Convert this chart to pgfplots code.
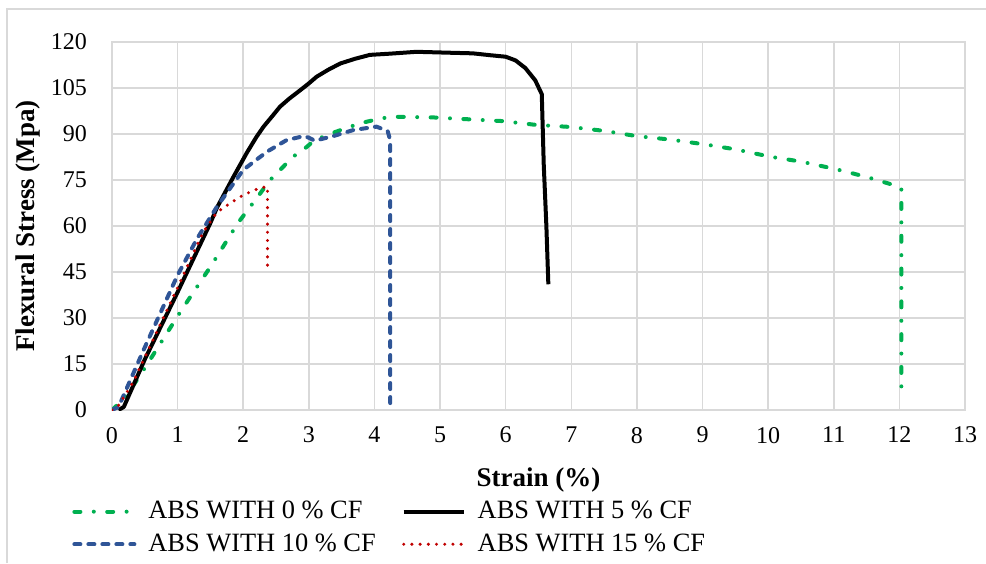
\documentclass[border=0pt]{standalone}
\usepackage{fontspec}
\setmainfont{Liberation Serif}
\usepackage{pgfplots}
\pgfplotsset{compat=1.18}

\definecolor{gridgray}{HTML}{D9D9D9}
\definecolor{cfgreen}{HTML}{00B050}
\definecolor{cfblue}{HTML}{2F5597}
\definecolor{cfred}{HTML}{C00000}

\begin{document}
\begin{tikzpicture}
\useasboundingbox (0,0) rectangle (493pt,281.5pt);
% outer chart frame (only left and top edges show)
\draw[gridgray, line width=1pt] (3.5pt,0) -- (3.5pt,277pt) -- (493pt,277pt);

\begin{axis}[
	at={(56pt,76.5pt)}, anchor=south west,
	scale only axis,
	width=426.5pt, height=184pt,
	xmin=0, xmax=13, ymin=0, ymax=120,
	xtick={0,1,...,13},
	ytick={0,15,...,120},
	grid=major,
	major grid style={gridgray, line width=0.8pt},
	axis line style={gridgray, line width=0.8pt},
	major tick length=0pt,
	/pgf/number format/assume math mode=true,
	ticklabel style={font=\fontsize{12}{14}\selectfont},
	xticklabel style={yshift=-5pt},
	yticklabel style={xshift=-9pt},
	xlabel={\textbf{Strain (\%)}},
	ylabel={\textbf{Flexural Stress (Mpa)}},
	label style={font=\fontsize{13.5}{15}\selectfont},
	xlabel style={at={(axis description cs:0.5,0)}, anchor=center, yshift=-35pt},
	ylabel style={at={(axis description cs:0,0.5)}, anchor=center, yshift=42pt},
	legend columns=2,
	legend cell align=left,
	legend style={
		at={(axis description cs:0,0)}, anchor=north west,
		xshift=-20pt, yshift=-43.5pt,
		draw=none, fill=none, inner sep=0pt,
		font=\fontsize{13.2}{15}\selectfont,
		row sep=2pt,
		/tikz/column 2/.style={column sep=11pt},
	},
	legend image code/.code={\draw[#1] (0pt,0pt) -- (30pt,0pt); \path (34pt,0pt);},
]

\addplot[cfgreen, line width=2pt, line cap=round,
	dash pattern=on 3pt off 6.7pt on 0pt off 6.7pt]
coordinates {
(0,0) (0.2,4) (0.5,13.7) (1.06,32.6) (1.5,46.7) (1.92,61) (2.23,69.8)
(2.41,75) (2.76,82.6) (2.94,85.3) (3.09,88) (3.37,90.4) (3.63,92.4)
(3.88,94) (4.13,95.2) (4.37,95.6) (4.9,95.4) (5.43,94.8) (5.96,94.2)
(6.45,93) (6.98,92.3) (7.51,91) (8.0,89.3) (8.5,88.2) (9.04,86.6)
(9.5,85) (10.03,82.6) (10.5,81) (11.02,78.6) (11.5,76) (12.0,72.8)
(12.03,72) (12.03,6)
};
\addlegendentry{ABS WITH 0 \% CF}

\addplot[black, line width=2pt, line join=round]
coordinates {
(0.1,0) (0.18,1) (0.5,16.5) (0.99,38) (1.3,52) (1.5,61) (1.6,66) (1.85,76)
(2.05,83.7) (2.2,89) (2.31,92.4) (2.45,96) (2.56,98.9) (2.7,101.5)
(2.87,104.3) (3.0,106.5) (3.12,108.7) (3.3,111) (3.48,113) (3.7,114.5)
(3.93,115.8) (4.24,116.2) (4.64,116.8) (5.15,116.5) (5.5,116.3)
(5.76,115.7) (6.0,115.2) (6.15,114) (6.3,111.5) (6.45,107.5) (6.55,103)
(6.58,80) (6.62,60) (6.65,41)
};
\addlegendentry{ABS WITH 5 \% CF}

\addplot[cfblue, line width=2pt, line cap=round,
	dash pattern=on 3pt off 4pt]
coordinates {
(0,0) (0.1,1) (0.48,19.5) (1.0,44) (1.3,56) (1.6,66.3) (2.0,78.3)
(2.36,84.2) (2.66,88) (2.92,89.3) (3.0,88.8) (3.09,87.8) (3.37,89.3)
(3.68,91.3) (4.03,92.4) (4.2,91) (4.24,88) (4.24,0)
};
\addlegendentry{ABS WITH 10 \% CF}

\addplot[cfred, line width=1.7pt, line cap=round,
	dash pattern=on 0pt off 4.1pt]
coordinates {
(0,0) (0.1,1.5) (0.32,9) (0.98,39) (1.39,58) (1.6,64.5) (1.8,67.4)
(2.0,70.1) (2.26,72.5) (2.37,72.8) (2.37,44.7)
};
\addlegendentry{ABS WITH 15 \% CF}

\end{axis}
\end{tikzpicture}
\end{document}
